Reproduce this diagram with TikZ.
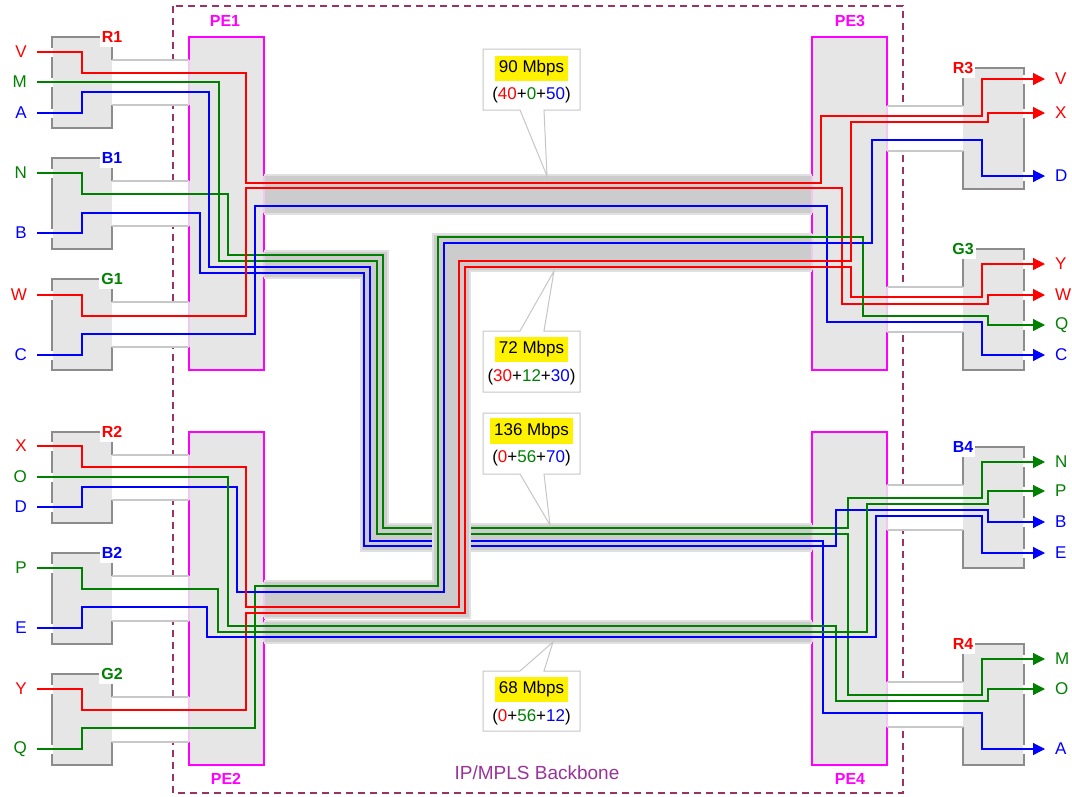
\documentclass[tikz,border=0pt]{standalone}
\usepackage{fontspec}
\setmainfont{Liberation Sans}
\usetikzlibrary{arrows.meta}
\definecolor{fred}{HTML}{FF0000}
\definecolor{fgreen}{HTML}{008000}
\definecolor{fblue}{HTML}{0000FF}
\definecolor{pemag}{HTML}{FF00FF}
\definecolor{pepale}{HTML}{F2C8F2}
\definecolor{bbone}{HTML}{993366}
\definecolor{bbtext}{HTML}{993399}
\definecolor{boxgray}{HTML}{E6E6E6}
\definecolor{edgegray}{HTML}{8C8C8C}
\definecolor{chgray}{HTML}{C8C8C8}
\definecolor{trunkgray}{HTML}{CCCCCC}
\definecolor{halogray}{HTML}{E0E0E0}
\newcommand{\flowmix}[3]{(\textcolor{fred}{#1}+\textcolor{fgreen}{#2}+\textcolor{fblue}{#3})}
\begin{document}
\begin{tikzpicture}[x=1pt,y=-1pt,
    txt/.style={font=\fontsize{17}{20}\selectfont},
    lbl/.style={txt, inner xsep=10pt, inner ysep=2pt},
    cename/.style={font=\fontsize{16}{19}\selectfont\bfseries, fill=white, inner xsep=2pt, inner ysep=4pt},
    pename/.style={font=\fontsize{16}{19}\selectfont\bfseries, text=pemag},
    pebox/.style={fill=boxgray, draw=pemag, line width=1.6pt},
    peopen/.style={draw=pepale, line width=1.6pt},
    ceedge/.style={draw=edgegray, line width=1.2pt},
    chan/.style={draw=chgray, line width=1.5pt},
    trunk/.style={draw=trunkgray, line width=#1, preaction={draw=halogray, line width=#1+4pt}},
    flow/.style={line width=1.2pt, -{Triangle[length=12pt,width=12pt]}},
    rflow/.style={flow, fred}, gflow/.style={flow, fgreen}, bflow/.style={flow, fblue},
    callout/.style={fill=white, draw=gray!45, line width=1pt},
    rate/.style={txt, fill=yellow, inner xsep=4pt, inner ysep=5pt},
    mix/.style={txt, inner sep=1pt}]
    \useasboundingbox (0,0) rectangle (1072,796);

    % backbone
    \draw[bbone, line width=1.5pt, dash pattern=on 7pt off 5pt] (173,6) rectangle (903,793);
    \node[font=\fontsize{19}{22}\selectfont, text=bbtext] (bb) at (537,773) {IP/MPLS Backbone};

    % PE routers
    \draw[pebox] (189,37) rectangle (264,370);
    \draw[pebox] (189,432) rectangle (264,765);
    \draw[pebox] (812,37) rectangle (887,370);
    \draw[pebox] (812,432) rectangle (887,765);
    \node[pename] (PE1) at (225,21) {PE1};
    \node[pename] (PE2) at (226,779) {PE2};
    \node[pename] (PE3) at (850,21) {PE3};
    \node[pename] (PE4) at (850,779) {PE4};

    % CE routers, left
    \foreach \ty/\nm/\cl in {37/R1/fred,158/B1/fblue,279/G1/fgreen,432/R2/fred,553/B2/fblue,674/G2/fgreen}{
    \begin{scope}[shift={(0,\ty)}]
        \fill[boxgray] (52,0) rectangle (112,91);
        \draw[ceedge] (112,23) -- (112,0) -- (52,0) -- (52,91) -- (112,91) -- (112,68);
        \fill[white] (112,23) rectangle (189,68);
        \draw[chan] (112,23) -- (189,23) (112,68) -- (189,68);
        \draw[peopen] (189,23) -- (189,68);
        \node[cename, text=\cl] (\nm) at (112,0) {\nm};
    \end{scope}
    }
    % CE routers, right
    \foreach \ty/\nm/\cl in {68/R3/fred,249/G3/fgreen,447/B4/fblue,644/R4/fred}{
    \begin{scope}[shift={(0,\ty)}]
        \fill[boxgray] (963,0) rectangle (1024,121);
        \draw[ceedge] (963,38) -- (963,0) -- (1024,0) -- (1024,121) -- (963,121) -- (963,83);
        \fill[white] (887,38) rectangle (963,83);
        \draw[chan] (887,38) -- (963,38) (887,83) -- (963,83);
        \draw[peopen] (887,38) -- (887,83);
        \node[cename, text=\cl] (\nm) at (963,0) {\nm};
    \end{scope}
    }
    \foreach \y in {52,82,113,173,233,295,355,446,477,507,568,628,689,749}
        \fill[white] (51,\y-4.5) rectangle (53,\y+4.5);
    \foreach \y in {79,113,176,264,295,325,355,462,491,522,553,659,689,749}
        \fill[white] (1023,\y-4.5) rectangle (1025,\y+4.5);

    % end labels
    \node[lbl, anchor=east, text=fred] (lV) at (37,52) {V};
    \node[lbl, anchor=east, text=fgreen] (lM) at (37,82) {M};
    \node[lbl, anchor=east, text=fblue] (lA) at (37,113) {A};
    \node[lbl, anchor=east, text=fgreen] (lN) at (37,173) {N};
    \node[lbl, anchor=east, text=fblue] (lB) at (37,233) {B};
    \node[lbl, anchor=east, text=fred] (lW) at (37,295) {W};
    \node[lbl, anchor=east, text=fblue] (lC) at (37,355) {C};
    \node[lbl, anchor=east, text=fred] (lX) at (37,446) {X};
    \node[lbl, anchor=east, text=fgreen] (lO) at (37,477) {O};
    \node[lbl, anchor=east, text=fblue] (lD) at (37,507) {D};
    \node[lbl, anchor=east, text=fgreen] (lP) at (37,568) {P};
    \node[lbl, anchor=east, text=fblue] (lE) at (37,628) {E};
    \node[lbl, anchor=east, text=fred] (lY) at (37,689) {Y};
    \node[lbl, anchor=east, text=fgreen] (lQ) at (37,749) {Q};

    \node[lbl, anchor=west, text=fred] (rV) at (1045,79) {V};
    \node[lbl, anchor=west, text=fred] (rX) at (1045,113) {X};
    \node[lbl, anchor=west, text=fblue] (rD) at (1045,176) {D};
    \node[lbl, anchor=west, text=fred] (rY) at (1045,264) {Y};
    \node[lbl, anchor=west, text=fred] (rW) at (1045,295) {W};
    \node[lbl, anchor=west, text=fgreen] (rQ) at (1045,325) {Q};
    \node[lbl, anchor=west, text=fblue] (rC) at (1045,355) {C};
    \node[lbl, anchor=west, text=fgreen] (rN) at (1045,462) {N};
    \node[lbl, anchor=west, text=fgreen] (rP) at (1045,491) {P};
    \node[lbl, anchor=west, text=fblue] (rB) at (1045,522) {B};
    \node[lbl, anchor=west, text=fblue] (rE) at (1045,553) {E};
    \node[lbl, anchor=west, text=fgreen] (rM) at (1045,659) {M};
    \node[lbl, anchor=west, text=fgreen] (rO) at (1045,689) {O};
    \node[lbl, anchor=west, text=fblue] (rA) at (1045,749) {A};

    % trunks
    \draw[trunk=37pt] (264,194.5) -- (812,194.5);
    \draw[trunk=25pt] (264,264) -- (374,264) -- (374,537.5) -- (812,537.5);
    \draw[trunk=20pt] (264,632) -- (812,632);
    \draw[peopen] (264,176) -- (264,213) (264,252) -- (264,277);
    \draw[peopen] (812,176) -- (812,213) (812,525) -- (812,550);
    \draw[peopen] (264,622) -- (264,642) (812,622) -- (812,642);

    % PE1 -> PE4
    \draw[gflow] (lN.east) -- (82,173) -- (82,194) -- (228,194) -- (228,255) -- (383,255) -- (383,528) -- (848,528) -- (848,498) -- (982,498) -- (982,462) -- (rN.west);
    \draw[gflow] (lM.east) -- (219,82) -- (219,261) -- (377,261) -- (377,534) -- (848,534) -- (848,695) -- (982,695) -- (982,659) -- (rM.west);
    \draw[bflow] (lA.east) -- (82,113) -- (82,92) -- (209,92) -- (209,267) -- (370,267) -- (370,541) -- (823,541) -- (823,713) -- (982,713) -- (982,749) -- (rA.west);
    \draw[bflow] (lB.east) -- (82,233) -- (82,213) -- (200,213) -- (200,273) -- (364,273) -- (364,546) -- (836,546) -- (836,510) -- (988,510) -- (988,522) -- (rB.west);

    \draw[trunk=35pt] (264,599) -- (451,599) -- (451,252) -- (812,252);
    \draw[peopen] (264,582) -- (264,617) (812,234) -- (812,270);

    % PE1 -> PE3
    \draw[rflow] (lV.east) -- (82,52) -- (82,73) -- (246,73) -- (246,183) -- (821,183) -- (821,116) -- (982,116) -- (982,79) -- (rV.west);
    \draw[rflow] (lW.east) -- (82,295) -- (82,316) -- (246,316) -- (246,188) -- (842,188) -- (842,304) -- (988,304) -- (988,295) -- (rW.west);
    \draw[bflow] (lC.east) -- (82,355) -- (82,334) -- (255,334) -- (255,206) -- (827,206) -- (827,322) -- (982,322) -- (982,355) -- (rC.west);
    % PE2 -> PE3
    \draw[gflow] (lQ.east) -- (82,749) -- (82,728) -- (255,728) -- (255,586) -- (438,586) -- (438,237) -- (863,237) -- (863,316) -- (988,316) -- (988,325) -- (rQ.west);
    \draw[bflow] (lD.east) -- (82,507) -- (82,487) -- (237,487) -- (237,592) -- (444,592) -- (444,243) -- (872,243) -- (872,140) -- (982,140) -- (982,176) -- (rD.west);
    \draw[rflow] (lX.east) -- (82,446) -- (82,467) -- (246,467) -- (246,607) -- (459,607) -- (459,261) -- (851,261) -- (851,122) -- (988,122) -- (988,113) -- (rX.west);
    \draw[rflow] (lY.east) -- (82,689) -- (82,710) -- (246,710) -- (246,613) -- (465,613) -- (465,267) -- (851,267) -- (851,297) -- (982,297) -- (982,264) -- (rY.west);
    % PE2 -> PE4
    \draw[gflow] (lO.east) -- (228,477) -- (228,626) -- (836,626) -- (836,701) -- (988,701) -- (988,689) -- (rO.west);
    \draw[gflow] (lP.east) -- (82,568) -- (82,589) -- (218,589) -- (218,632) -- (867,632) -- (867,504) -- (988,504) -- (988,491) -- (rP.west);
    \draw[bflow] (lE.east) -- (82,628) -- (82,607) -- (207,607) -- (207,637) -- (876,637) -- (876,516) -- (982,516) -- (982,553) -- (rE.west);

    % rate callouts
    \draw[callout] (483,49) -- (580,49) -- (580,110) -- (544,110) -- (547,176) -- (520,110) -- (483,110) -- cycle;
    \node[rate] (r90) at (531.5,68.5) {90 Mbps};
    \node[mix] (m90) at (531.5,95) {\flowmix{40}{0}{50}};

    \draw[callout] (483,331) -- (520,331) -- (554,271) -- (544,331) -- (580,331) -- (580,392) -- (483,392) -- cycle;
    \node[rate] (r72) at (531.5,349.5) {72 Mbps};
    \node[mix] (m72) at (531.5,377) {\flowmix{30}{12}{30}};

    \draw[callout] (483,413) -- (580,413) -- (580,474) -- (544,474) -- (550,525) -- (520,474) -- (483,474) -- cycle;
    \node[rate] (r136) at (531.5,431) {136 Mbps};
    \node[mix] (m136) at (531.5,458.5) {\flowmix{0}{56}{70}};

    \draw[callout] (483,671) -- (520,671) -- (553,642) -- (544,671) -- (580,671) -- (580,731) -- (483,731) -- cycle;
    \node[rate] (r68) at (531.5,689.5) {68 Mbps};
    \node[mix] (m68) at (531.5,717) {\flowmix{0}{56}{12}};
\end{tikzpicture}
\end{document}
